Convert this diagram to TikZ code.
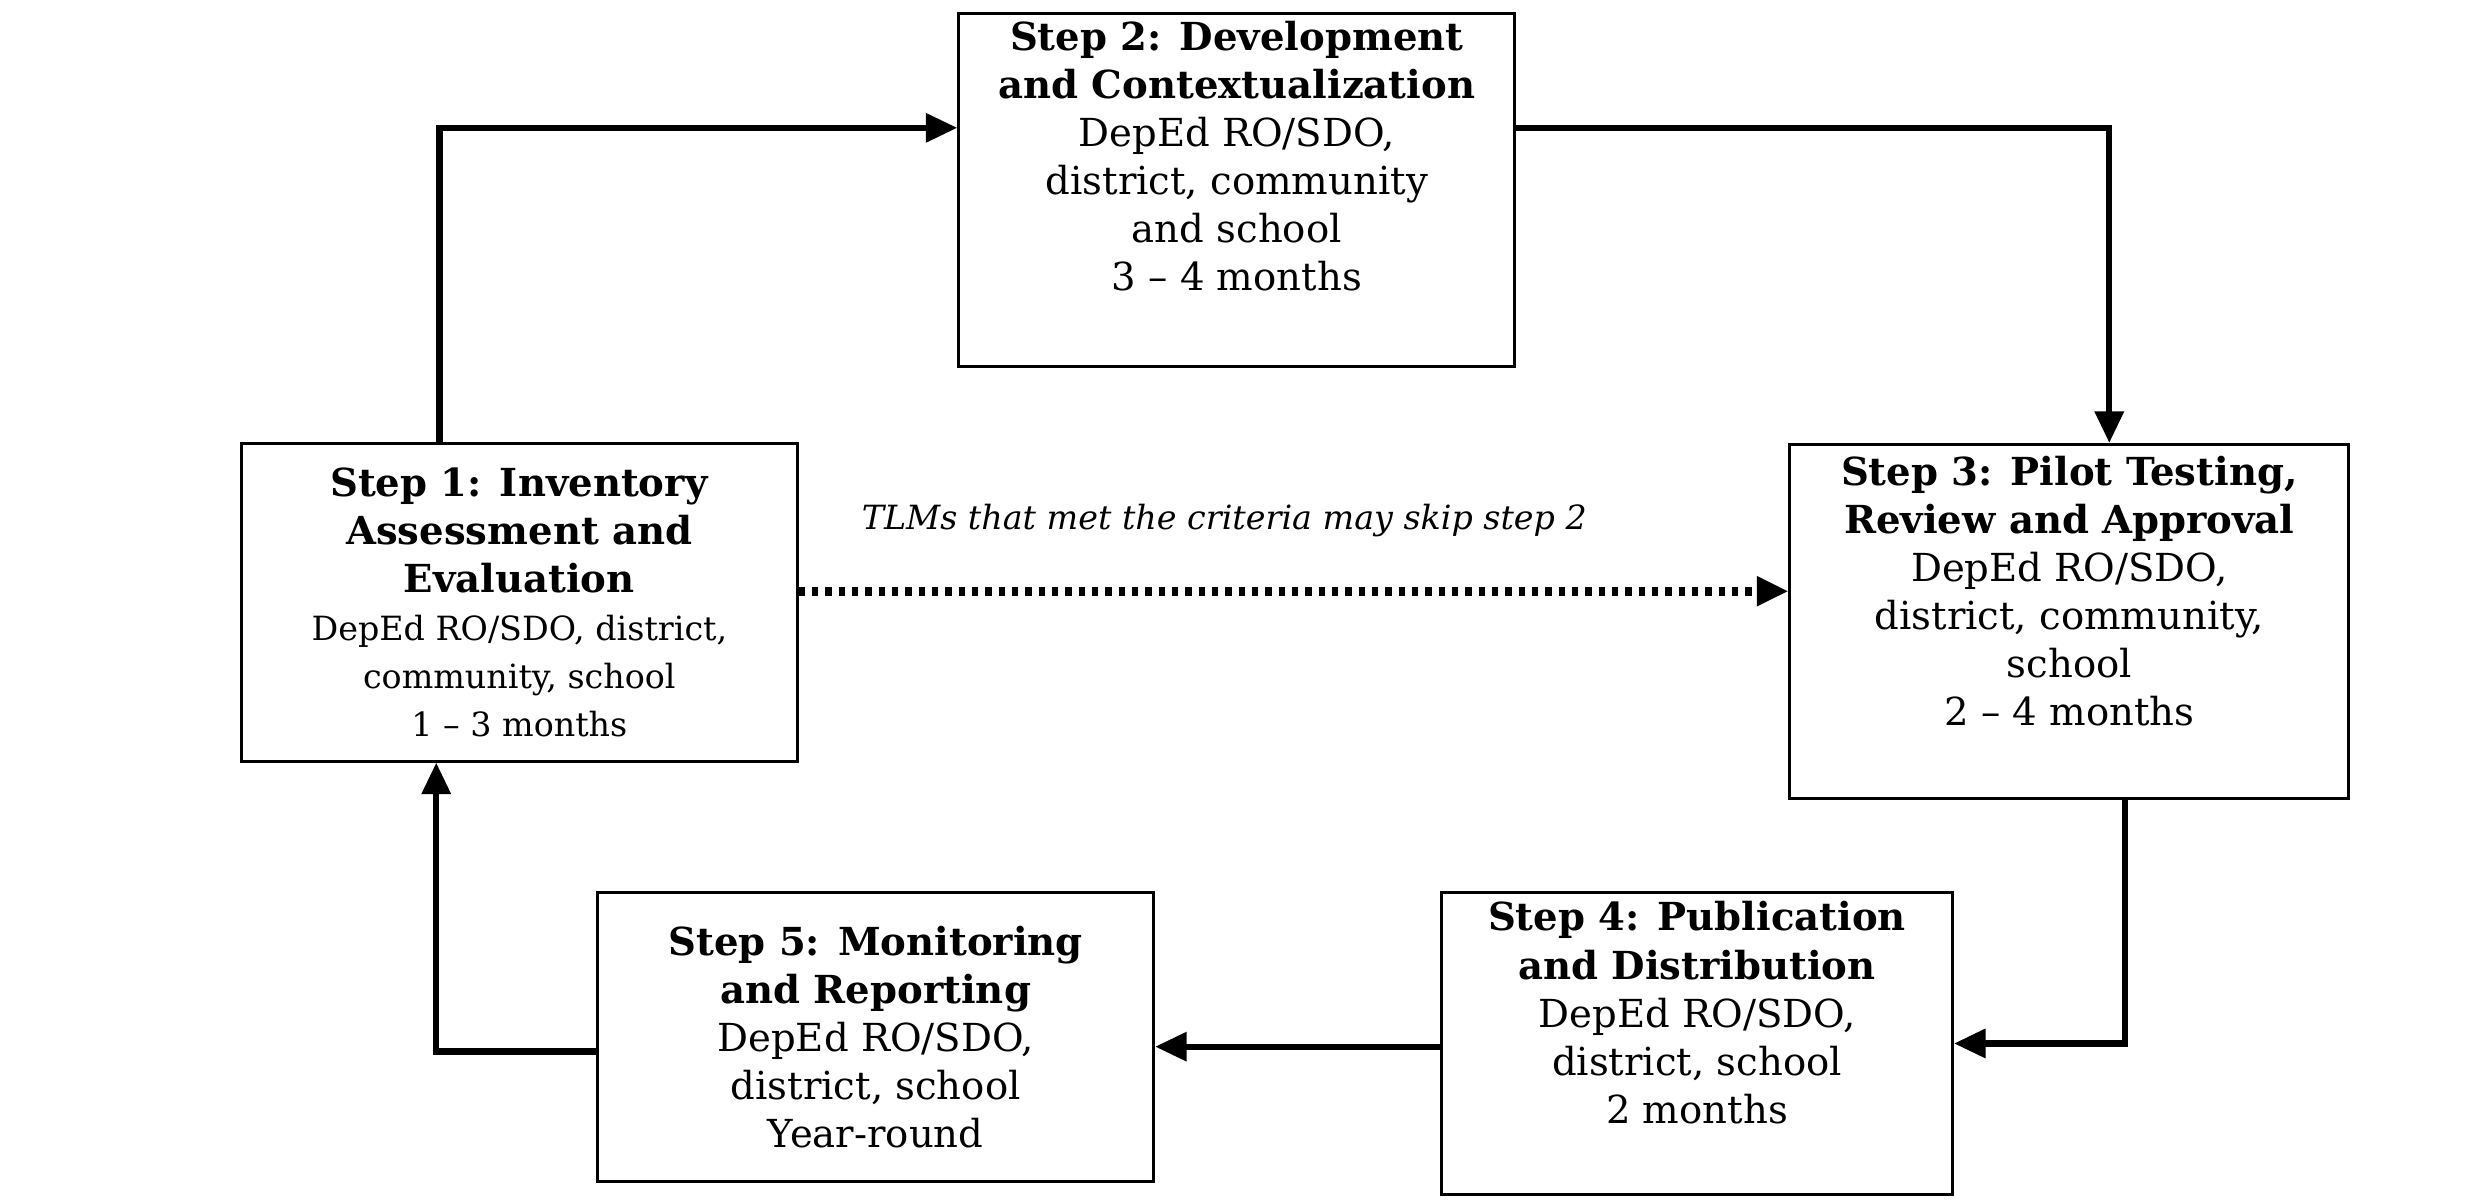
\documentclass[tikz,border=0pt]{standalone}
\usepackage{fontspec}
\setmainfont{DejaVu Serif}
\usetikzlibrary{arrows.meta}
\tikzset{
  stepbox/.style={draw, line width=0.8pt, rectangle, align=center, inner sep=2pt,
    font=\fontsize{11}{13.7}\selectfont},
  flow/.style={line width=1.8pt, -{Triangle[length=9pt,width=8pt]}},
}
\begin{document}
\begin{tikzpicture}[x=0.016cm, y=-0.016cm]
\useasboundingbox (0,0) rectangle (1552,752);

\node (s2) [stepbox, minimum width=5.57cm, minimum height=3.49cm] at (774,119) {\textbf{Step 2: Development}\\\textbf{and Contextualization}\\DepEd RO/SDO,\\district, community\\and school\\3 -- 4 months\\[6pt]};

\node (s1) [stepbox, minimum width=5.57cm, minimum height=3.18cm] at (325,377) {\textbf{Step 1: Inventory}\\\textbf{Assessment and}\\\textbf{Evaluation}\\{\fontsize{9.5}{11.4}\selectfont DepEd RO/SDO, district,}\\{\fontsize{9.5}{11.4}\selectfont community, school}\\{\fontsize{9.5}{11.4}\selectfont 1 -- 3 months}};

\node (s3) [stepbox, minimum width=5.6cm, minimum height=3.55cm] at (1295,389) {\textbf{Step 3: Pilot Testing,}\\\textbf{Review and Approval}\\DepEd RO/SDO,\\district, community,\\school\\2 -- 4 months\\[4pt]};

\node (s4) [stepbox, minimum width=5.12cm, minimum height=3.02cm] at (1062,653) {\textbf{Step 4: Publication}\\\textbf{and Distribution}\\DepEd RO/SDO,\\district, school\\2 months\\[4pt]};

\node (s5) [stepbox, minimum width=5.57cm, minimum height=2.9cm] at (548,649) {\textbf{Step 5: Monitoring}\\\textbf{and Reporting}\\DepEd RO/SDO,\\district, school\\Year-round};

\draw[flow] (s1.north -| 275,0) |- (s2.west |- 0,80);
\draw[flow] (s2.east |- 0,80) -| (s3.north -| 1320,0);
\draw[flow] (s3.south -| 1330,0) |- (s4.east |- 0,653);
\draw[flow] (s4.west |- 0,655) -- (s5.east |- 0,655);
\draw[flow] (s5.west |- 0,658) -| (s1.south -| 273,0);
\draw[flow, dotted, line width=2.5pt] (s1.east |- 0,370) -- (s3.west |- 0,370)
  node[pos=0.43, above=11pt, font=\fontsize{9.5}{11}\selectfont\itshape] {TLMs that met the criteria may skip step 2};
\end{tikzpicture}
\end{document}
